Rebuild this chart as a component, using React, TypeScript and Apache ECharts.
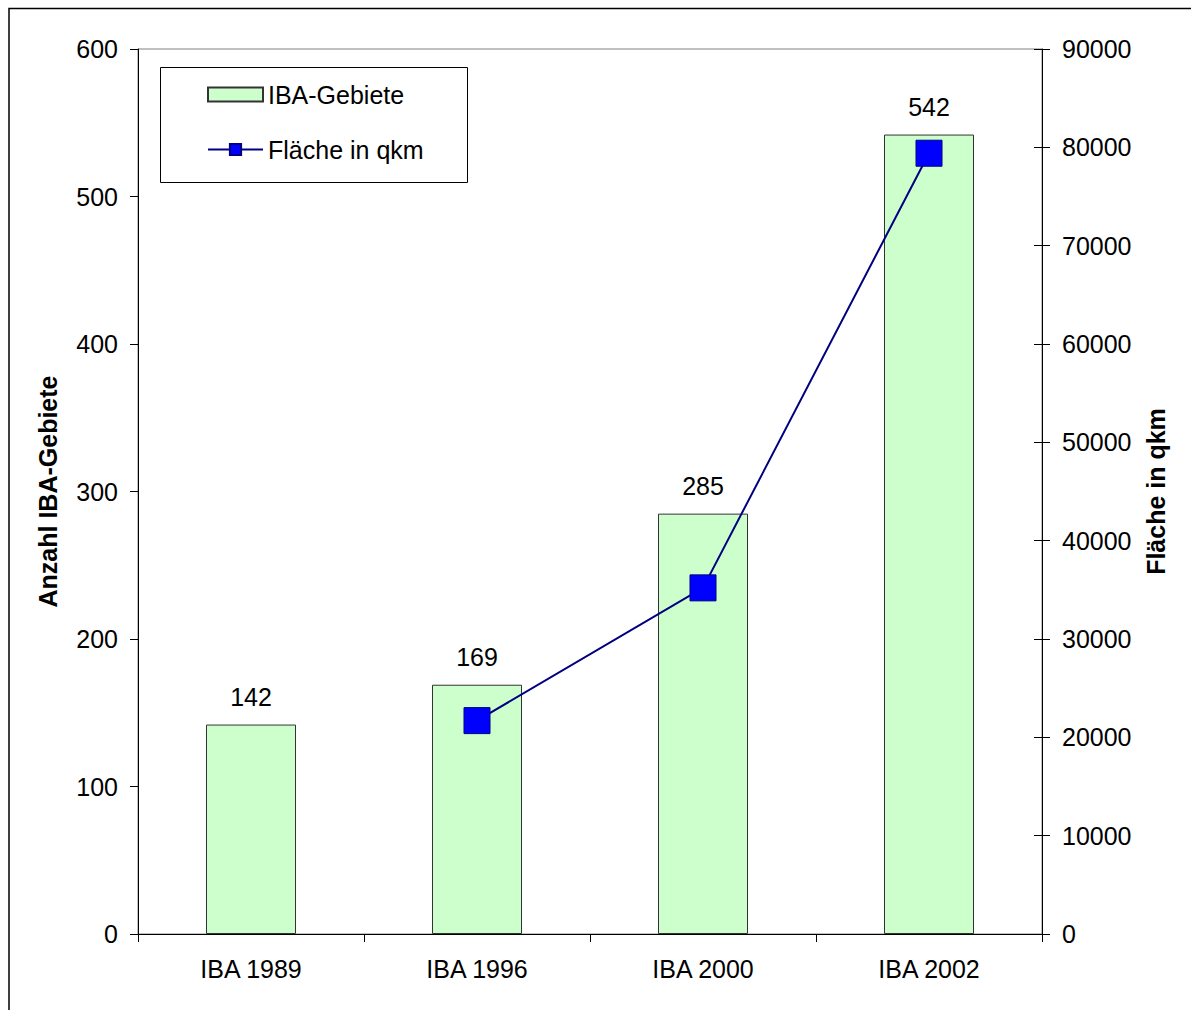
import React, { useEffect, useRef } from "react";
import * as echarts from "echarts";

const categories = ["IBA 1989", "IBA 1996", "IBA 2000", "IBA 2002"];
const ibaCounts = [142, 169, 285, 542];
const areaQkm: (number | null)[] = [null, 21700, 35200, 79400];
const leftTicks = { min: 0, max: 600, interval: 100 };
const rightTicks = { min: 0, max: 90000, interval: 10000 };

const FONT = "'Liberation Sans', Arial, sans-serif";

export default function App() {
  const ref = useRef<HTMLDivElement>(null);
  useEffect(() => {
    if (!ref.current) return;
    const chart = echarts.init(ref.current, null, { renderer: "svg" });
    const textStyle = { fontFamily: FONT, fontSize: 25, color: "#000" };
    chart.setOption({
      animation: false,
      textStyle: { fontFamily: FONT },
      grid: {
        left: 138,
        right: 149,
        top: 49,
        bottom: 76,
        show: true,
        borderColor: "#808080",
        borderWidth: 1,
        backgroundColor: "transparent",
      },
      legend: {
        orient: "vertical",
        left: 207,
        top: 82,
        padding: 0,
        itemWidth: 55,
        itemHeight: 14,
        itemGap: 30,
        textStyle: { ...textStyle },
        data: [
          { name: "IBA-Gebiete", icon: "rect" },
          { name: "Fläche in qkm" },
        ],
      },
      graphic: [
        {
          type: "rect",
          shape: { x: 160.5, y: 67.5, width: 307, height: 115 },
          style: { fill: "none", stroke: "#000", lineWidth: 1 },
          z: -1,
        },
        {
          type: "polyline",
          shape: { points: [[9, 1010], [9, 8.5], [1191, 8.5]] },
          style: { fill: "none", stroke: "#000", lineWidth: 1.5 },
        },
      ],
      xAxis: {
        type: "category",
        data: categories,
        boundaryGap: true,
        axisLine: { show: true, lineStyle: { color: "#000", width: 1 } },
        axisTick: { show: true, alignWithLabel: false, length: 8, lineStyle: { color: "#000" } },
        axisLabel: { ...textStyle, margin: 22 },
        splitLine: { show: false },
      },
      yAxis: [
        {
          type: "value",
          position: "left",
          ...leftTicks,
          name: "Anzahl IBA-Gebiete",
          nameLocation: "middle",
          nameGap: 78,
          nameTextStyle: { fontFamily: FONT, fontSize: 25, fontWeight: "bold", color: "#000" },
          axisLine: { show: true, lineStyle: { color: "#000", width: 1 } },
          axisTick: { show: true, length: 8, lineStyle: { color: "#000" } },
          axisLabel: { ...textStyle, margin: 20 },
          splitLine: { show: false },
        },
        {
          type: "value",
          position: "right",
          ...rightTicks,
          name: "Fläche in qkm",
          nameLocation: "middle",
          nameGap: 101,
          nameTextStyle: { fontFamily: FONT, fontSize: 25, fontWeight: "bold", color: "#000" },
          axisLine: { show: true, lineStyle: { color: "#000", width: 1 } },
          axisTick: { show: true, length: 8, lineStyle: { color: "#000" } },
          axisLabel: { ...textStyle, margin: 20, formatter: (v: number) => String(v) },
          splitLine: { show: false },
        },
        {
          type: "value",
          position: "right",
          ...rightTicks,
          axisLine: { show: false },
          axisTick: { show: true, inside: true, length: 8, lineStyle: { color: "#000" } },
          axisLabel: { show: false },
          splitLine: { show: false },
        },
      ],
      series: [
        {
          name: "IBA-Gebiete",
          type: "bar",
          yAxisIndex: 0,
          data: ibaCounts,
          barWidth: 90,
          itemStyle: { color: "#ccffcc", borderColor: "#333", borderWidth: 1 },
          label: {
            show: true,
            position: "top",
            distance: 15,
            ...textStyle,
          },
        },
        {
          name: "Fläche in qkm",
          type: "line",
          yAxisIndex: 1,
          data: areaQkm,
          symbol: "rect",
          symbolSize: 26,
          connectNulls: false,
          itemStyle: { color: "#0000ff", borderColor: "#000080", borderWidth: 1 },
          lineStyle: { color: "#000080", width: 2 },
          z: 5,
        },
      ],
    });
    return () => chart.dispose();
  }, []);
  return (
    <div
      ref={ref}
      style={{ position: "absolute", left: 0, top: 0, width: 1191, height: 1010, background: "#fff" }}
    />
  );
}
